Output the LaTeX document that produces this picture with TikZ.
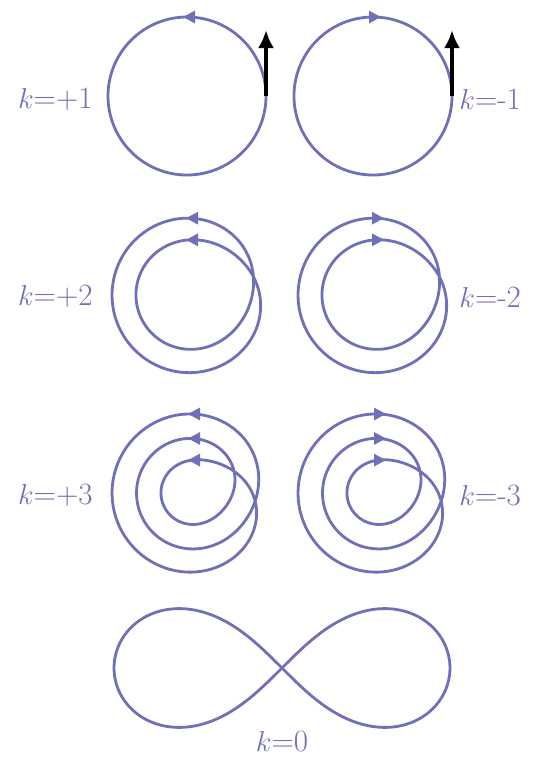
\documentclass[tikz,border=0pt]{standalone}
\usepackage{tikz}
\usetikzlibrary{positioning,calc,arrows.meta}
\definecolor{loopblue}{RGB}{112,112,184}

\begin{document}
\begin{tikzpicture}[
    x=0.5pt, y=-0.5pt,
    declare function={
        sw(\t)=0.5*(1+tanh(max(-4,min(4,\t/50))));
        rtwo(\t)=54+24*sw(\t-16)-24*sw(\t-376);
        rthree(\t)=31+24.5*sw(\t-10)+24.5*sw(\t-370)-49*sw(\t-730);
        lemx(\t)=168*cos(\t)/(1+sin(\t)*sin(\t));
        lemy(\t)=168*sin(\t)*cos(\t)/(1+sin(\t)*sin(\t));
    },
    curve/.style={draw=loopblue, line width=1.4pt},
    ringnode/.style={circle, curve, minimum size=79pt, inner sep=0pt, outer sep=0pt},
    headl/.style={curve, -{Triangle[length=6pt,width=6pt]}},
    tangent/.style={draw=black, line width=2pt, -{Latex[length=9pt,width=8pt]}},
    klabel/.style={font=\fontsize{15.5}{18}\selectfont, text=loopblue, inner sep=0pt}
]

\path[use as bounding box, fill=white] (0,0) rectangle (550,768);

% Row 1: k=+1, k=-1
\node[ringnode] (ringp) at (187,96) {};
\coordinate (tipp) at ($(ringp.east)+(0,-66)$);
\draw[tangent] (ringp.east) -- (tipp);
\draw[headl] ($(ringp.north)+(8,0)$) -- ($(ringp.north)+(-4,0)$);
\node[klabel, anchor=east] (kp1) at (93,99) {$k$=+1};

\node[ringnode] (ringm) at (373,96) {};
\coordinate (tipm) at ($(ringm.east)+(0,-66)$);
\draw[tangent] (ringm.east) -- (tipm);
\draw[headl] ($(ringm.north)+(-4,0)$) -- ($(ringm.north)+(8,0)$);
\node[klabel, anchor=west] (km1) at (459,99) {$k$=-1};

% Row 2: k=+2, k=-2
\begin{scope}[shift={(190,295)}]
    \draw[curve] plot[domain=-164:556, samples=361] ({rtwo(\x)*cos(\x)}, {-rtwo(\x)*sin(\x)}) -- cycle;
    \draw[headl] ({8},{-rtwo(90)}) -- ({-4},{-rtwo(90)});
    \draw[headl] ({8},{-rtwo(450)}) -- ({-4},{-rtwo(450)});
\end{scope}
\node[klabel, anchor=east] (kp2) at (93,296) {$k$=+2};

\begin{scope}[shift={(376,295)}]
    \draw[curve] plot[domain=-164:556, samples=361] ({rtwo(\x)*cos(\x)}, {-rtwo(\x)*sin(\x)}) -- cycle;
    \draw[headl] ({-4},{-rtwo(90)}) -- ({8},{-rtwo(90)});
    \draw[headl] ({-4},{-rtwo(450)}) -- ({8},{-rtwo(450)});
\end{scope}
\node[klabel, anchor=west] (km2) at (459,297) {$k$=-2};

% Row 3: k=+3, k=-3
\begin{scope}[shift={(192,493)}]
    \draw[curve] plot[domain=-170:910, samples=541] ({rthree(\x)*cos(\x)}, {-rthree(\x)*sin(\x)}) -- cycle;
    \foreach \a in {90,450,810}
        \draw[headl] ({8},{-rthree(\a)}) -- ({-4},{-rthree(\a)});
\end{scope}
\node[klabel, anchor=east] (kp3) at (93,495) {$k$=+3};

\begin{scope}[shift={(378,493)}]
    \draw[curve] plot[domain=-170:910, samples=541] ({rthree(\x)*cos(\x)}, {-rthree(\x)*sin(\x)}) -- cycle;
    \foreach \a in {90,450,810}
        \draw[headl] ({-4},{-rthree(\a)}) -- ({8},{-rthree(\a)});
\end{scope}
\node[klabel, anchor=west] (km3) at (459,495) {$k$=-3};

% Row 4: figure eight, k=0
\begin{scope}[shift={(282,668)}]
    \draw[curve] plot[domain=0:360, samples=241] ({lemx(\x)}, {lemy(\x)}) -- cycle;
\end{scope}
\node[klabel] (k0) at (282,741) {$k$=0};

\end{tikzpicture}
\end{document}
